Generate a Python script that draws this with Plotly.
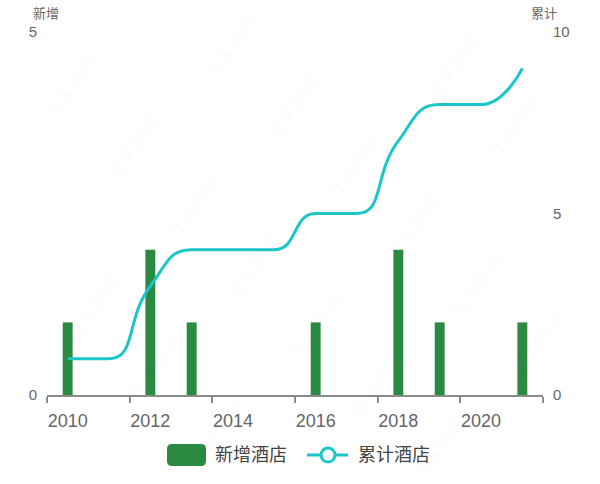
import math
import plotly.graph_objects as go

# ---- data ----
years = [2010, 2011, 2012, 2013, 2014, 2015, 2016, 2017, 2018, 2019, 2020, 2021]
new_hotels = [1, 0, 2, 1, 0, 0, 1, 0, 2, 1, 0, 1]
cum_hotels = [1, 1, 3, 4, 4, 4, 5, 5, 7, 8, 8, 9]
x_tick_labels = ["2010", "2012", "2014", "2016", "2018", "2020"]
x_tick_vals = [2010, 2012, 2014, 2016, 2018, 2020]
series_names = ["新增酒店", "累计酒店"]
axis_titles = ["新增", "累计"]
watermark = "华美顾问"

# ---- style / geometry ----
W, H = 600, 484
L, R, T, B = 47, 57, 32, 89
PW, PH = W - L - R, H - T - B
XMIN, XMAX = 2009.5, 2021.5
Y2MAX = 10
GREEN = "#2b8a42"
CYAN = "#1cc5c7"
GRAY = "#666666"
FONT = "Liberation Sans, Noto Sans CJK SC, sans-serif"


def px(x):
    """page pixel x -> paper x"""
    return (x - L) / PW


def py(y):
    """page pixel y -> paper y"""
    return (H - B - y) / PH


# smooth (constrained bezier) path for the cumulative line, built from the data
def smooth_path(xs, ys, smooth=0.5):
    sx = PW / (XMAX - XMIN)
    sy = PH / Y2MAX
    pts = [((x - XMIN) * sx, y * sy) for x, y in zip(xs, ys)]

    def back(p):
        return (p[0] / sx + XMIN, p[1] / sy)

    n = len(pts)
    segs = []
    cp0 = pts[0]
    for i in range(1, n):
        x, y = pts[i]
        prevx, prevy = pts[i - 1]
        if i == n - 1:
            cp1 = (x, y)
            nxt = None
        else:
            nx, ny = pts[i + 1]
            vx, vy = nx - prevx, ny - prevy
            lp = math.hypot(x - prevx, y - prevy)
            ln = math.hypot(nx - x, ny - y)
            ratio = ln / (ln + lp)
            ncx = x + vx * smooth * ratio
            ncy = y + vy * smooth * ratio
            ncx = max(min(ncx, max(nx, x)), min(nx, x))
            ncy = max(min(ncy, max(ny, y)), min(ny, y))
            vx, vy = ncx - x, ncy - y
            c1x = x - vx * lp / ln
            c1y = y - vy * lp / ln
            c1x = max(min(c1x, max(prevx, x)), min(prevx, x))
            c1y = max(min(c1y, max(prevy, y)), min(prevy, y))
            vx, vy = x - c1x, y - c1y
            ncx = x + vx * ln / lp
            ncy = y + vy * ln / lp
            cp1 = (c1x, c1y)
            nxt = (ncx, ncy)
        segs.append((back(cp0), back(cp1), back((x, y))))
        cp0 = nxt
    sx0, sy0 = back(pts[0])
    d = f"M {sx0},{sy0}"
    for a, b, c in segs:
        d += f" C {a[0]},{a[1]} {b[0]},{b[1]} {c[0]},{c[1]}"
    return d


fig = go.Figure()
fig.add_trace(go.Bar(
    x=years, y=new_hotels, name=series_names[0], width=0.24,
    marker=dict(color=GREEN, line=dict(width=0)), showlegend=False,
))
fig.add_trace(go.Scatter(
    x=years, y=cum_hotels, name=series_names[1], mode="markers", yaxis="y2",
    marker=dict(color=CYAN, size=8, opacity=0), showlegend=False,
))

fig.update_layout(
    width=W, height=H,
    margin=dict(l=L, r=R, t=T, b=B, pad=0),
    paper_bgcolor="white", plot_bgcolor="white",
    font=dict(family=FONT, color=GRAY),
    xaxis=dict(
        range=[XMIN, XMAX], showgrid=False, zeroline=False,
        showline=True, linecolor="#8a8a8a", linewidth=1.5,
        tickvals=x_tick_vals, ticktext=x_tick_labels, ticks="outside",
        ticklen=0, ticklabelstandoff=9,
        tickfont=dict(size=18, color=GRAY),
        minor=dict(tick0=XMIN, dtick=2, ticks="outside", ticklen=6,
                   tickcolor="#8a8a8a", tickwidth=1.5, showgrid=False),
    ),
    yaxis=dict(
        range=[0, 5], tickvals=[0, 5], showgrid=False, zeroline=False,
        showline=False, ticks="", ticklabelstandoff=9,
        tickfont=dict(size=15, color=GRAY),
    ),
    yaxis2=dict(
        range=[0, Y2MAX], tickvals=[0, 5, 10], overlaying="y", side="right",
        showgrid=False, zeroline=False, showline=False, ticks="",
        ticklabelstandoff=9, tickfont=dict(size=15, color=GRAY),
    ),
)

annotations = []
# faint watermark lattice
ax, ay = 61, 60
bx, by = 160, -40
for i in range(-10, 14):
    for j in range(-6, 8):
        cx = 73 + i * ax + j * bx
        cy = 87 + i * ay + j * by
        if 40 <= cx <= 570 and 40 <= cy <= 450:
            annotations.append(dict(
                text=watermark, xref="paper", yref="paper", x=px(cx), y=py(cy),
                xanchor="center", yanchor="middle", showarrow=False,
                textangle=-55, font=dict(size=18, color="rgba(0,0,0,0.03)"),
            ))
annotations += [
    dict(text=axis_titles[0], xref="paper", yref="paper", x=px(46), y=py(14),
         xanchor="center", yanchor="middle", showarrow=False,
         font=dict(size=13, color=GRAY)),
    dict(text=axis_titles[1], xref="paper", yref="paper", x=px(544), y=py(14),
         xanchor="center", yanchor="middle", showarrow=False,
         font=dict(size=13, color=GRAY)),
    dict(text=series_names[0], xref="paper", yref="paper", x=px(213), y=py(455),
         xanchor="left", yanchor="middle", showarrow=False,
         font=dict(size=18, color="#444444")),
    dict(text=series_names[1], xref="paper", yref="paper", x=px(356), y=py(455),
         xanchor="left", yanchor="middle", showarrow=False,
         font=dict(size=18, color="#444444")),
]
fig.update_layout(annotations=annotations)

# legend symbols (rounded rect + line with hollow circle)
x0, x1, y0, y1 = 167, 206, 444, 466
r = 5
rx, ry = r / PW, r / PH
X0, X1, Y0, Y1 = px(x0), px(x1), py(y1), py(y0)
rect = (f"M {X0+rx},{Y0} L {X1-rx},{Y0} Q {X1},{Y0} {X1},{Y0+ry} "
        f"L {X1},{Y1-ry} Q {X1},{Y1} {X1-rx},{Y1} L {X0+rx},{Y1} "
        f"Q {X0},{Y1} {X0},{Y1-ry} L {X0},{Y0+ry} Q {X0},{Y0} {X0+rx},{Y0} Z")
shapes = [
    dict(type="path", xref="x", yref="y2", path=smooth_path(years, cum_hotels),
         line=dict(color=CYAN, width=3), layer="above"),
    dict(type="path", xref="paper", yref="paper", path=rect,
         fillcolor=GREEN, line=dict(width=0)),
    dict(type="line", xref="paper", yref="paper", x0=px(307), x1=px(348),
         y0=py(455), y1=py(455), line=dict(color=CYAN, width=3)),
    dict(type="circle", xref="paper", yref="paper", x0=px(321), x1=px(335),
         y0=py(462), y1=py(448), fillcolor="white", line=dict(color=CYAN, width=3)),
]
fig.update_layout(shapes=shapes)

fig.write_html("out.html",
               config={"displayModeBar": False},
               post_script="document.body.style.margin='0px';"
                           "document.body.style.overflow='hidden';")
